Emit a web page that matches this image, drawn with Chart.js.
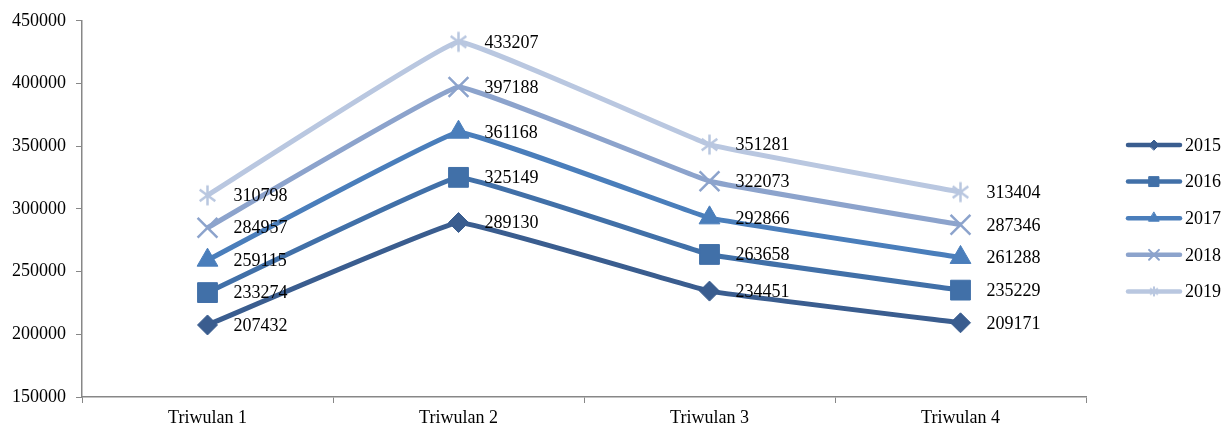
<!DOCTYPE html>
<html>
<head>
<meta charset="utf-8">
<script src="https://cdn.jsdelivr.net/npm/chart.js@4.4.1/dist/chart.umd.min.js"></script>
<style>
  html, body { margin: 0; padding: 0; background: #fff; }
  #wrap { width: 1229px; height: 430px; position: relative; }
</style>
</head>
<body>
<div id="wrap"><canvas id="c" width="1229" height="430"></canvas></div>
<script>
// Quarterly values per year
const categories = ['Triwulan 1', 'Triwulan 2', 'Triwulan 3', 'Triwulan 4'];
const years = ['2015', '2016', '2017', '2018', '2019'];
const v2015 = [207432, 289130, 234451, 209171];
const v2016 = [233274, 325149, 263658, 235229];
const v2017 = [259115, 361168, 292866, 261288];
const v2018 = [284957, 397188, 322073, 287346];
const v2019 = [310798, 433207, 351281, 313404];
const yTicks = [150000, 200000, 250000, 300000, 350000, 400000, 450000];

const seriesValues = [v2015, v2016, v2017, v2018, v2019];
const colors = ['#3A5D8F', '#4170A8', '#4A7EBB', '#8CA3CC', '#B9C7E0'];
const FONT = "'Liberation Serif', 'Times New Roman', serif";

// Excel-style asterisk marker: vertical stroke plus a diagonal cross
function asterisk(color, r, lw) {
  const s = Math.ceil(r * 2 + lw * 2);
  const cv = document.createElement('canvas');
  cv.width = s; cv.height = s;
  const g = cv.getContext('2d');
  const c = s / 2;
  g.strokeStyle = color; g.lineWidth = lw; g.lineCap = 'butt';
  g.beginPath();
  g.moveTo(c, c - r); g.lineTo(c, c + r);
  const d = r * 0.78;
  g.moveTo(c - d, c - d * 0.75); g.lineTo(c + d, c + d * 0.75);
  g.moveTo(c - d, c + d * 0.75); g.lineTo(c + d, c - d * 0.75);
  g.stroke();
  return cv;
}

const markers = [
  { style: 'rectRot', radius: 10, legendRadius: 5 },
  { style: 'rect', radius: 14, legendRadius: 7 },
  { style: 'triangle', radius: 12, legendRadius: 6 },
  { style: 'crossRot', radius: 14, legendRadius: 7 },
  { style: asterisk(colors[4], 10, 2.5), radius: 10, legendStyle: asterisk(colors[4], 5, 2), legendRadius: 5 }
];

const datasets = years.map((y, i) => ({
  label: y,
  data: seriesValues[i],
  borderColor: colors[i],
  backgroundColor: colors[i],
  borderWidth: 5,
  tension: 0.06,
  pointStyle: markers[i].style,
  pointRadius: markers[i].radius,
  pointHoverRadius: markers[i].radius,
  pointBorderWidth: (i >= 3) ? 2.5 : 1,
  pointBorderColor: colors[i],
  pointBackgroundColor: colors[i]
}));

// Value labels to the right of every point
const valueLabels = {
  id: 'valueLabels',
  afterDatasetsDraw(chart) {
    const ctx = chart.ctx;
    ctx.save();
    ctx.font = '18px ' + FONT;
    ctx.fillStyle = '#000';
    ctx.textAlign = 'left';
    ctx.textBaseline = 'middle';
    chart.data.datasets.forEach((ds, di) => {
      const meta = chart.getDatasetMeta(di);
      meta.data.forEach((pt, j) => {
        ctx.fillText(String(ds.data[j]), pt.x + 26, pt.y + 1);
      });
    });
    ctx.restore();
  }
};

// Legend on the right: line sample with marker, then year
const sideLegend = {
  id: 'sideLegend',
  afterDraw(chart) {
    const ctx = chart.ctx;
    const x0 = 1128, x1 = 1180, tx = 1185, yTop = 145, gap = 36.6;
    ctx.save();
    chart.data.datasets.forEach((ds, i) => {
      const y = yTop + i * gap;
      ctx.strokeStyle = ds.borderColor;
      ctx.lineWidth = 4.5;
      ctx.lineCap = 'round';
      ctx.beginPath();
      ctx.moveTo(x0, y); ctx.lineTo(x1, y);
      ctx.stroke();
      const m = markers[i];
      ctx.fillStyle = ds.backgroundColor;
      ctx.strokeStyle = ds.borderColor;
      ctx.lineWidth = i >= 3 ? 2 : 1;
      Chart.helpers.drawPoint(ctx, {
        pointStyle: m.legendStyle || m.style,
        radius: m.legendRadius,
        borderWidth: ctx.lineWidth,
        rotation: 0
      }, (x0 + x1) / 2, y);
      ctx.fillStyle = '#000';
      ctx.font = '18px ' + FONT;
      ctx.textAlign = 'left';
      ctx.textBaseline = 'middle';
      ctx.fillText(ds.label, tx, y + 1);
    });
    ctx.restore();
  }
};

new Chart(document.getElementById('c'), {
  type: 'line',
  data: { labels: categories, datasets },
  options: {
    responsive: false,
    animation: false,
    events: [],
    layout: { padding: { top: 20, right: 143, bottom: 0, left: 0 } },
    plugins: { legend: { display: false }, tooltip: { enabled: false } },
    scales: {
      x: {
        offset: true,
        grid: {
          offset: true,
          drawOnChartArea: false,
          drawTicks: true,
          tickLength: 6,
          color: '#878787'
        },
        border: { color: '#878787', width: 1.5 },
        ticks: { color: '#000', font: { family: FONT, size: 18 }, padding: 4 },
        afterFit(scale) { scale.height = 33; }
      },
      y: {
        min: yTicks[0],
        max: yTicks[yTicks.length - 1],
        afterBuildTicks(scale) { scale.ticks = yTicks.map(v => ({ value: v })); },
        grid: {
          drawOnChartArea: false,
          drawTicks: true,
          tickLength: 6,
          color: '#878787'
        },
        border: { color: '#878787', width: 1.5 },
        ticks: {
          color: '#000',
          font: { family: FONT, size: 18 },
          padding: 10,
          callback: (v) => String(v)
        },
        afterFit(scale) { scale.width = 82; }
      }
    }
  },
  plugins: [valueLabels, sideLegend]
});
</script>
</body>
</html>
